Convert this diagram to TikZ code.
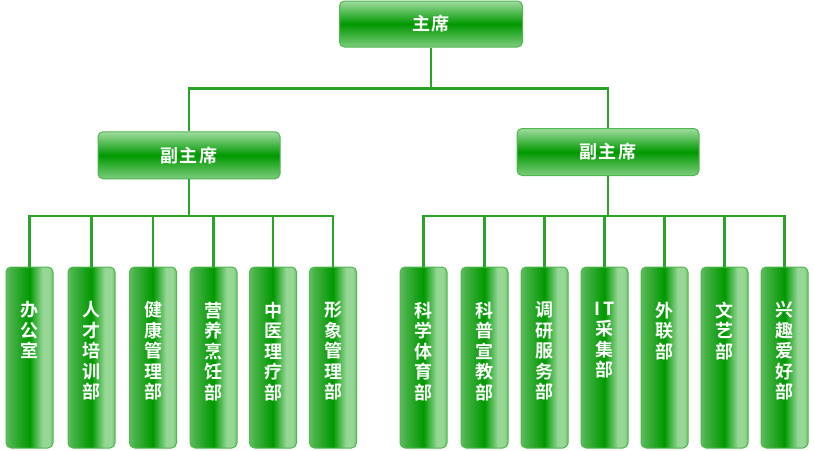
\documentclass[tikz,border=0pt]{standalone}
\usepackage{fontspec}
\newfontfamily\cjk{Noto Sans CJK SC}[BoldFont={Noto Sans CJK SC Bold}]
\newfontfamily\cjkwide{Noto Sans CJK SC}[BoldFont={Noto Sans CJK SC Bold}, LetterSpace=10]
\usetikzlibrary{positioning}

\definecolor{linkgreen}{RGB}{40,165,40}
\definecolor{edgegreen}{RGB}{80,182,80}
\definecolor{darkgreen}{RGB}{0,152,0}
\definecolor{highgreen}{RGB}{160,220,160}
\definecolor{lowgreen}{RGB}{125,205,125}
\definecolor{colA}{RGB}{95,190,95}
\definecolor{colB}{RGB}{70,178,70}
\definecolor{colC}{RGB}{150,215,150}
\definecolor{colD}{RGB}{105,195,105}

\pgfdeclareverticalshading{barshade}{100bp}{color(0bp)=(lowgreen); color(25bp)=(lowgreen); color(50bp)=(darkgreen); color(75bp)=(highgreen); color(100bp)=(highgreen)}
\pgfdeclarehorizontalshading{colshade}{100bp}{color(0bp)=(colA); color(25bp)=(colA); color(30bp)=(colB); color(50bp)=(darkgreen); color(64bp)=(colC); color(71bp)=(colC); color(75bp)=(colD); color(100bp)=(colD)}

\begin{document}
\begin{tikzpicture}[x=1pt,y=-1pt,
	bar/.style={draw=edgegreen, line width=1pt, rounded corners=5pt, shading=barshade, minimum width=182pt, minimum height=46pt, inner sep=0pt, text=white, font=\cjkwide\bfseries\fontsize{18}{18}\selectfont},
	col/.style={draw=edgegreen, line width=1pt, rounded corners=5pt, shading=colshade, minimum width=47pt, minimum height=181pt, inner sep=0pt},
	coltext/.style={text=white, align=center, inner sep=0pt, font=\cjk\bfseries\fontsize{18}{20.5}\selectfont},
	link/.style={draw=linkgreen, line width=2.2pt}]
		\useasboundingbox (0,0) rectangle (814,450);
		% chair and vice chairs
		\node[bar, minimum width=183pt] (chair) at (431,24) {主席};
		\node[bar, minimum height=47pt] (vleft) at (189,155.3) {副主席};
		\node[bar, minimum height=47pt] (vright) at (608,152) {副主席};
		\draw[link] (chair.south) -- ++(0,41) coordinate (fork) -| (vleft.north);
		\draw[link] (fork) -| (vright.north);
		% left departments
		\foreach \x/\txt [count=\i] in {29.5/办\\公\\室, 91.5/人\\才\\培\\训\\部, 153/健\\康\\管\\理\\部, 213.5/营\\养\\烹\\饪\\部, 273/中\\医\\理\\疗\\部, 333/形\\象\\管\\理\\部}{
			\node[col] (l\i) at (\x,357.5) {};
			\node[coltext, below=35pt of l\i.north] (lt\i) {\txt};
			\draw[link] (vleft.south) -- ++(0,37) -| (l\i.north);
		}
		% right departments
		\foreach \x/\txt [count=\i] in {423.5/科\\学\\体\\育\\部, 484.5/科\\普\\宣\\教\\部, 544.5/调\\研\\服\\务\\部, 604.5/I\hspace{3pt}T\\采\\集\\部, 664.5/外\\联\\部, 724.5/文\\艺\\部, 784.5/兴\\趣\\爱\\好\\部}{
			\node[col] (r\i) at (\x,357.5) {};
			\node[coltext, below=35pt of r\i.north] (rt\i) {\txt};
			\draw[link] (vright.south) -- ++(0,40) -| (r\i.north);
		}
	\end{tikzpicture}
\end{document}
